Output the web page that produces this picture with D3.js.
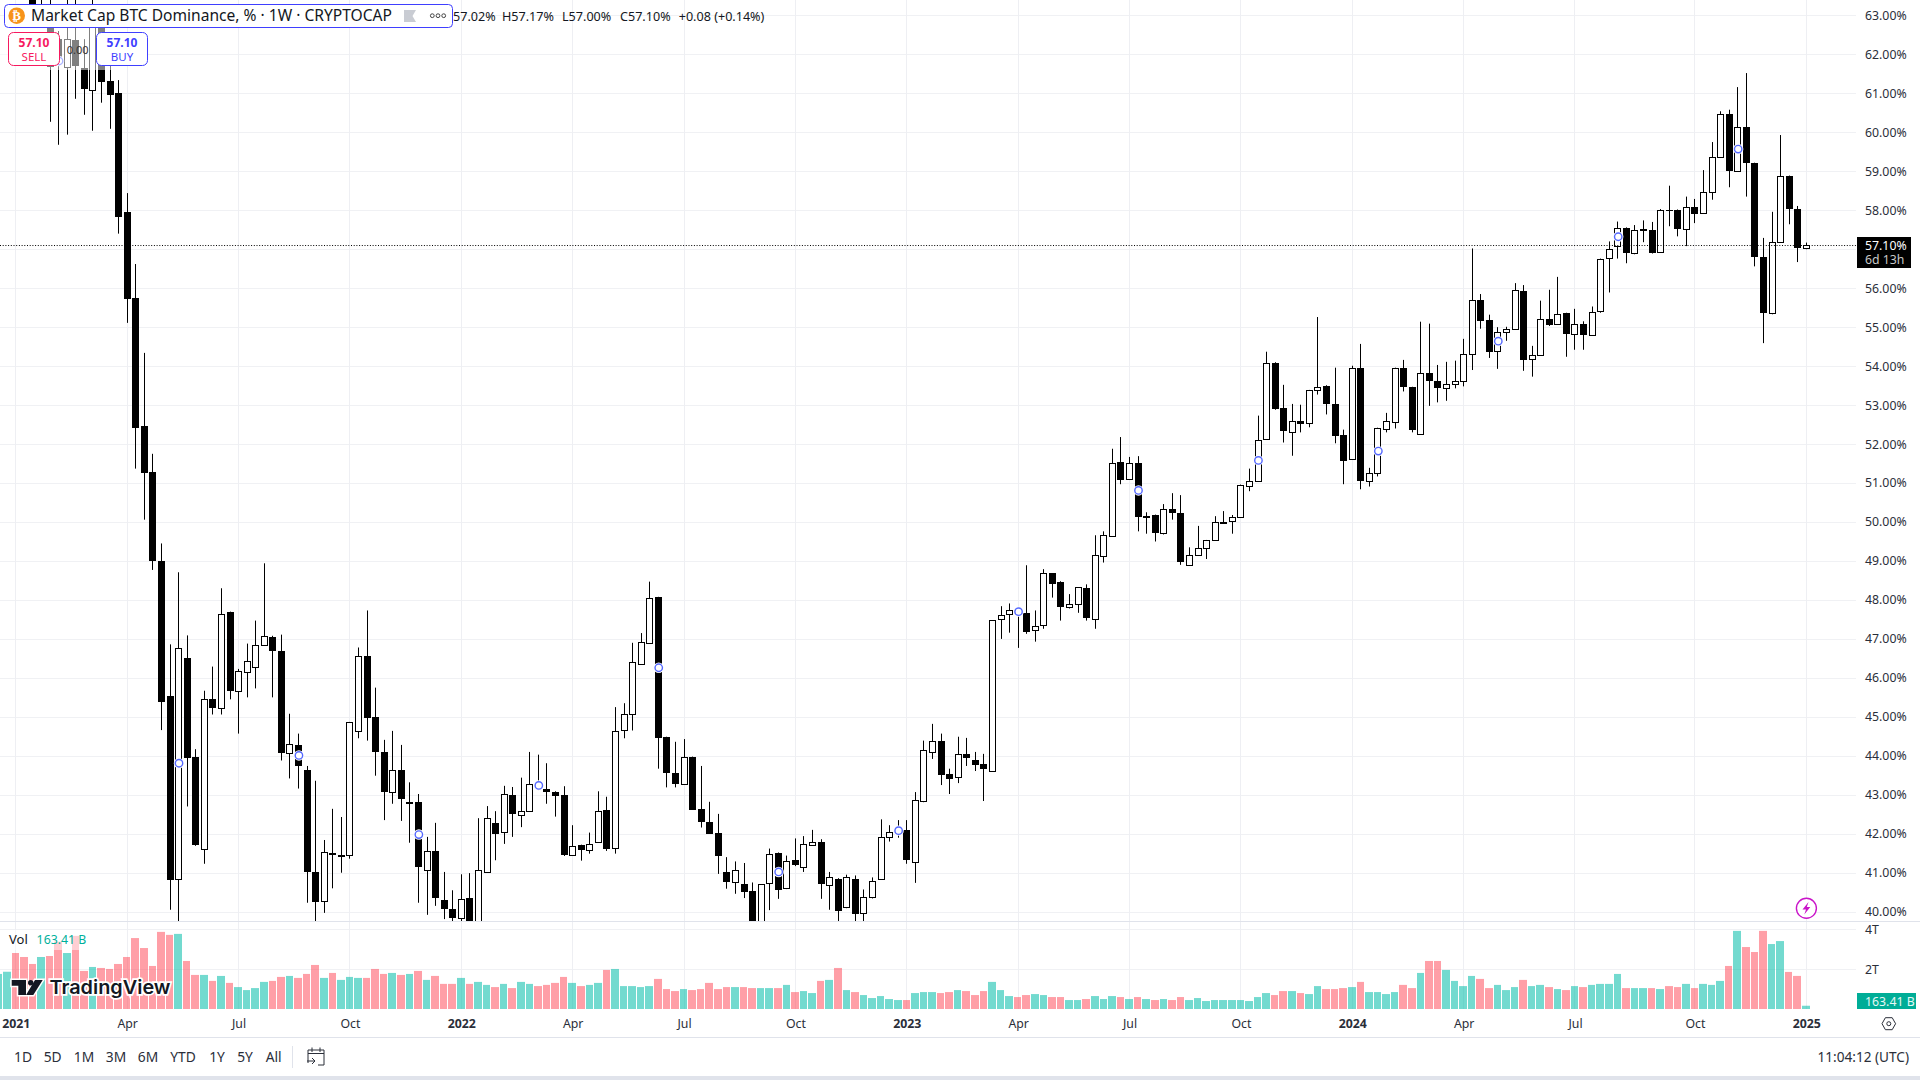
<!DOCTYPE html>
<html>
<head>
<meta charset="utf-8">
<title>Market Cap BTC Dominance</title>
<script src="https://cdn.jsdelivr.net/npm/d3@7"></script>
<style>
html, body { margin: 0; padding: 0; background: #fff; overflow: hidden; }
svg { display: block; }
text { font-family: "Noto Sans", sans-serif; fill: #131722; }
.axis path { display: none; }
.axis text { font-size: 12.3px; font-family: "Noto Sans", sans-serif; fill: #2a2e39; }
</style>
</head>
<body>
<div id="chart"></div>
<script>
// Weekly candles, in percent. The first few sit above the visible area
var opens = [
    67.2, 67.5, 67.9, 66.5, 64.2, 62.9, 63.1, 62.4, 61.68, 62.37,
    61.64, 61.08, 62.88, 61.32, 61.0, 57.95, 55.75, 52.46, 51.28, 49.0,
    45.54, 40.83, 46.52, 43.97, 41.62, 45.46, 45.23, 47.68, 45.66, 46.15,
    46.28, 46.85, 47.05, 46.68, 44.06, 44.28, 43.64, 41.02, 40.25, 41.50,
    41.44, 41.46, 44.63, 46.56, 45.0, 44.09, 43.06, 43.63, 42.80, 42.81,
    41.06, 41.55, 40.31, 40.08, 39.85, 40.34, 39.55, 41.01, 42.27, 42.04,
    42.99, 42.47, 42.58, 43.27, 43.14, 43.07, 42.99, 41.44, 41.70, 41.6,
    41.78, 42.60, 41.62, 44.66, 45.07, 46.36, 46.90, 48.07, 44.48, 43.55,
    43.27, 43.97, 42.63, 42.30, 42.01, 41.03, 40.77, 40.72, 40.54, 39.6,
    40.72, 41.50, 40.59, 41.32, 41.14, 41.73, 41.80, 40.70, 40.85, 40.12,
    40.85, 39.98, 40.39, 40.83, 41.93, 42.04, 42.09, 41.28, 42.85, 44.10,
    44.39, 43.54, 43.46, 44.05, 43.90, 43.80, 43.61, 47.53, 47.66, 47.74,
    47.66, 47.22, 47.35, 48.68, 48.45, 47.81, 47.89, 48.30, 47.50, 49.12,
    49.64, 51.54, 51.10, 51.51, 50.12, 50.18, 49.71, 50.33, 50.23, 48.89,
    49.15, 49.33, 49.53, 50.0, 50.02, 50.12, 50.92, 51.05, 52.12, 54.09,
    52.92, 52.31, 52.60, 52.53, 53.38, 53.50, 53.03, 52.24, 51.62, 53.95,
    51.04, 51.25, 52.38, 52.56, 53.95, 53.46, 52.26, 53.82, 53.62, 53.44,
    53.54, 53.62, 54.31, 55.70, 55.19, 54.38, 54.87, 54.95, 55.93, 54.18,
    54.28, 55.21, 55.08, 55.36, 54.82, 55.08, 54.79, 55.41, 56.77, 57.08,
    57.55, 56.91, 57.50, 57.50, 56.93, 58.01, 58.01, 57.52, 58.09, 57.93,
    58.47, 59.37, 60.47, 59.01, 60.14, 59.21, 56.80, 55.36, 57.19, 58.88,
    58.03, 57.02
];
var highs = [
    67.8, 68.2, 68.4, 67.0, 65.0, 64.2, 63.9, 62.6, 63.6, 63.5,
    62.39, 64.0, 63.1, 61.8, 61.34, 58.44, 56.62, 54.34, 51.75, 49.45,
    46.86, 48.71, 47.09, 44.17, 45.67, 46.29, 48.30, 47.7, 46.23, 46.88,
    47.47, 48.94, 47.08, 47.11, 45.08, 44.57, 43.74, 43.36, 41.84, 42.64,
    42.43, 44.87, 46.78, 47.73, 45.75, 44.41, 44.64, 44.28, 43.32, 43.02,
    41.92, 42.28, 41.02, 40.55, 40.96, 40.99, 42.40, 42.71, 42.58, 43.23,
    43.20, 43.44, 44.10, 44.03, 43.81, 43.09, 43.22, 42.22, 41.72, 42.03,
    43.09, 42.95, 45.25, 45.35, 46.90, 47.15, 48.47, 48.08, 44.49, 44.36,
    44.43, 43.98, 43.74, 42.82, 42.51, 41.40, 41.29, 41.25, 40.75, 40.70,
    41.62, 41.52, 41.44, 41.88, 41.94, 42.10, 41.86, 41.02, 40.86, 40.95,
    40.93, 40.57, 40.88, 42.37, 42.22, 42.35, 42.35, 43.07, 44.39, 44.82,
    44.57, 43.67, 44.49, 44.46, 44.10, 44.05, 47.48, 47.84, 47.91, 47.80,
    48.89, 47.73, 48.79, 48.69, 48.48, 48.15, 48.32, 48.40, 49.66, 49.76,
    51.88, 52.18, 51.67, 51.69, 50.25, 50.19, 50.46, 50.74, 50.69, 49.35,
    49.90, 49.54, 50.15, 50.28, 50.18, 50.96, 51.37, 52.73, 54.37, 54.10,
    53.52, 53.03, 53.01, 53.39, 55.26, 53.51, 53.96, 52.37, 54.01, 54.57,
    51.39, 52.42, 52.80, 53.96, 54.16, 53.47, 55.14, 55.09, 54.03, 54.11,
    54.14, 54.70, 57.02, 55.85, 55.32, 55.0, 55.01, 56.13, 56.08, 54.52,
    55.68, 55.96, 56.29, 55.37, 55.47, 55.15, 55.53, 56.76, 57.20, 57.71,
    57.56, 57.62, 57.74, 57.70, 58.03, 58.63, 58.02, 58.35, 58.29, 59.03,
    59.75, 60.54, 60.58, 61.16, 61.52, 59.22, 57.29, 57.96, 59.93, 58.89,
    58.11, 57.17
];
var lows = [
    66.6, 66.8, 66.2, 64.1, 62.8, 62.8, 60.27, 59.68, 59.94, 60.86,
    60.45, 60.04, 60.76, 60.09, 57.40, 55.11, 51.37, 50.06, 48.77, 44.66,
    40.05, 39.6, 42.70, 41.69, 41.23, 45.06, 45.06, 45.45, 44.57, 45.50,
    45.73, 46.85, 45.50, 43.88, 43.42, 43.16, 40.23, 39.7, 39.97, 40.60,
    41.0, 41.36, 44.45, 44.39, 43.49, 42.35, 42.77, 42.33, 41.77, 40.23,
    39.92, 40.15, 39.81, 39.75, 39.76, 39.4, 39.4, 41.0, 41.32, 41.74,
    41.92, 42.17, 42.58, 43.12, 42.77, 42.44, 41.43, 41.43, 41.31, 41.49,
    41.77, 41.56, 41.49, 44.45, 44.65, 46.35, 46.89, 43.67, 43.19, 43.19,
    43.26, 42.62, 42.16, 42.0, 40.97, 40.59, 40.46, 40.35, 39.4, 39.5,
    40.04, 40.33, 40.58, 41.17, 41.02, 41.70, 40.33, 40.05, 39.7, 40.09,
    39.7, 39.7, 40.34, 40.82, 41.80, 41.90, 41.23, 40.74, 42.81, 43.92,
    43.25, 43.02, 43.30, 43.74, 43.61, 42.84, 43.60, 47.0, 47.16, 46.77,
    47.13, 46.93, 47.26, 48.06, 47.47, 47.78, 47.67, 47.47, 47.26, 48.96,
    49.63, 50.97, 51.09, 49.76, 49.70, 49.50, 49.68, 50.06, 48.90, 48.88,
    49.14, 49.05, 49.52, 49.98, 49.70, 50.11, 50.79, 51.04, 52.11, 52.88,
    52.04, 51.70, 52.30, 52.43, 53.27, 52.76, 52.02, 50.97, 51.61, 50.84,
    50.91, 51.17, 52.30, 52.40, 53.35, 52.30, 52.25, 52.98, 53.07, 53.11,
    53.43, 53.48, 53.90, 54.96, 54.21, 53.93, 54.65, 54.94, 53.88, 53.73,
    54.27, 55.03, 55.07, 54.24, 54.42, 54.42, 54.78, 55.37, 55.89, 56.76,
    56.64, 56.87, 57.18, 56.89, 56.92, 57.59, 57.33, 57.08, 57.67, 57.92,
    58.27, 59.36, 58.59, 59.0, 58.35, 56.56, 54.59, 55.33, 57.18, 57.64,
    56.67, 57.0
];
var closes = [
    67.5, 67.9, 66.5, 64.3, 63.0, 63.1, 61.7, 61.8, 62.39, 61.71,
    61.10, 63.0, 61.30, 60.97, 57.83, 55.72, 52.42, 51.26, 49.0, 45.39,
    40.82, 46.77, 43.96, 41.72, 45.46, 45.24, 47.64, 45.66, 46.18, 46.43,
    46.85, 47.08, 46.68, 44.06, 44.30, 43.73, 41.02, 40.25, 41.52, 41.44,
    41.45, 44.87, 46.56, 44.96, 44.11, 43.06, 43.63, 42.88, 42.81, 41.15,
    41.55, 40.35, 40.07, 39.84, 40.33, 39.55, 41.06, 42.40, 41.98, 43.01,
    42.49, 42.58, 43.27, 43.22, 43.06, 42.98, 41.44, 41.68, 41.56, 41.75,
    42.58, 41.59, 44.63, 45.07, 46.41, 46.92, 48.06, 44.45, 43.55, 43.27,
    43.97, 42.62, 42.29, 42.0, 41.41, 40.77, 41.08, 40.51, 39.6, 40.70,
    41.47, 40.56, 41.29, 41.18, 41.73, 41.80, 40.71, 40.90, 40.02, 40.88,
    39.94, 40.39, 40.80, 41.91, 42.05, 42.09, 41.33, 42.86, 44.16, 44.39,
    43.53, 43.40, 44.05, 43.94, 43.76, 43.66, 47.48, 47.62, 47.75, 47.68,
    47.18, 47.32, 48.68, 48.39, 47.80, 47.89, 48.32, 47.52, 49.15, 49.66,
    51.51, 51.09, 51.51, 50.12, 50.15, 49.73, 50.33, 50.22, 48.98, 49.15,
    49.33, 49.53, 50.0, 50.01, 50.12, 50.95, 51.05, 52.10, 54.08, 52.91,
    52.32, 52.59, 52.53, 53.38, 53.46, 53.04, 52.22, 51.58, 53.95, 51.04,
    51.25, 52.41, 52.59, 53.95, 53.45, 52.35, 53.82, 53.61, 53.45, 53.54,
    53.61, 54.31, 55.69, 55.15, 54.38, 54.87, 54.95, 55.95, 54.17, 54.28,
    55.21, 55.06, 55.33, 54.81, 55.08, 54.79, 55.38, 56.75, 57.0, 57.55,
    56.92, 57.50, 57.51, 56.92, 58.01, 58.0, 57.51, 58.09, 57.92, 58.47,
    59.37, 60.47, 59.0, 60.14, 59.21, 56.79, 55.36, 57.18, 58.88, 58.03,
    57.03, 57.10
];
// Volume per week, in trillions
var volumes = [
    1.76, 1.87, 2.81, 2.61, 2.26, 2.61, 2.66, 3.38, 2.81, 3.67,
    1.91, 2.11, 2.06, 2.01, 2.26, 2.61, 3.56, 3.06, 2.16, 3.87,
    3.72, 3.77, 2.41, 1.71, 1.71, 1.41, 1.66, 1.31, 1.10, 0.95,
    1.05, 1.36, 1.41, 1.61, 1.66, 1.56, 1.76, 2.21, 1.56, 1.81,
    1.46, 1.61, 1.56, 1.56, 2.01, 1.76, 1.81, 1.71, 1.76, 1.91,
    1.46, 1.66, 1.26, 1.26, 1.56, 1.26, 1.36, 1.21, 1.10, 1.26,
    1.05, 1.36, 1.26, 1.15, 1.21, 1.31, 1.61, 1.31, 1.15, 1.21,
    1.31, 1.96, 2.01, 1.15, 1.15, 1.10, 1.15, 1.51, 1.0, 0.90,
    1.0, 0.95, 1.0, 1.31, 1.0, 1.10, 1.10, 1.10, 1.05, 1.05,
    1.05, 1.05, 1.21, 0.85, 0.90, 0.80, 1.41, 1.46, 2.06, 0.95,
    0.85, 0.70, 0.55, 0.65, 0.50, 0.45, 0.45, 0.80, 0.85, 0.85,
    0.80, 0.85, 0.95, 0.90, 0.70, 0.90, 1.36, 0.95, 0.65, 0.60,
    0.70, 0.75, 0.70, 0.60, 0.60, 0.45, 0.45, 0.50, 0.65, 0.50,
    0.65, 0.60, 0.50, 0.60, 0.50, 0.45, 0.50, 0.45, 0.60, 0.45,
    0.55, 0.40, 0.45, 0.45, 0.45, 0.45, 0.40, 0.60, 0.80, 0.70,
    0.90, 0.90, 0.80, 0.75, 1.15, 1.0, 1.0, 1.05, 1.10, 1.36,
    0.85, 0.85, 0.75, 0.85, 1.21, 1.05, 1.81, 2.41, 2.41, 1.96,
    1.41, 1.15, 1.66, 1.51, 1.05, 1.21, 0.95, 1.10, 1.46, 1.15,
    1.21, 1.10, 1.0, 0.95, 1.15, 1.10, 1.21, 1.26, 1.26, 1.76,
    1.05, 1.05, 1.05, 1.05, 1.0, 1.15, 1.10, 1.26, 1.05, 1.26,
    1.21, 1.41, 2.16, 3.92, 3.11, 2.86, 3.92, 3.26, 3.41, 1.86,
    1.66, 0.163
];
// Blue ring markers: week number and price
var markerWeeks = [7, 21, 35, 49, 63, 77, 91, 105, 119, 133, 147, 161, 175, 189, 203];
var markerPrices = [61.83, 43.81, 44.01, 41.98, 43.24, 46.26, 41.02, 42.08, 47.70, 50.81, 51.58, 51.82, 54.64, 57.32, 59.57];

// 57% has a grid line, but its label is hidden by the last price tag
var priceTicks = d3.range(40, 64);
var priceLabelTicks = priceTicks.filter(d => d !== 57);
var volumeTicks = [2, 4];
var timeTickWeeks = [2, 15, 28, 41, 54, 67, 80, 93, 106, 119, 132, 145, 158, 171, 184, 198, 211];
var timeTickLabels = ["2021", "Apr", "Jul", "Oct", "2022", "Apr", "Jul", "Oct", "2023", "Apr", "Jul", "Oct", "2024", "Apr", "Jul", "Oct", "2025"];
var rangeLabels = ["1D", "5D", "1M", "3M", "6M", "YTD", "1Y", "5Y", "All"];
var rangeCenters = [23, 52.7, 84, 116, 148, 183, 217, 245, 273.7];
var lastPrice = 57.10;

// Define SVG area dimensions
var svgWidth = 1920;
var svgHeight = 1080;
var plotRight = 1856;
var priceBottom = 921.5;
var volumeBottom = 1009;

var svg = d3.select("#chart").append("svg")
    .attr("width", svgWidth)
    .attr("height", svgHeight);

var candles = opens.map(function(o, i) {
    return { week: i, open: o, high: highs[i], low: lows[i], close: closes[i], volume: volumes[i] };
});

// Scales
var xScale = d3.scaleLinear().domain([0, 211]).range([-1.3, 1806.3]);
var yScale = d3.scaleLinear().domain([40, 63]).range([911.7, 15.4]);
var volScale = d3.scaleLinear().domain([0, 4]).range([volumeBottom, 929.3]);

svg.append("clipPath").attr("id", "priceClip").append("rect")
    .attr("x", 0).attr("y", 0).attr("width", plotRight).attr("height", priceBottom);

// Grid
var grid = svg.append("g");
grid.selectAll(".hgrid").data(priceTicks).enter().append("line")
    .attr("x1", 0).attr("x2", plotRight)
    .attr("y1", d => Math.round(yScale(d)) + 0.5)
    .attr("y2", d => Math.round(yScale(d)) + 0.5)
    .attr("stroke", "#f0f1f4");
grid.selectAll(".vgrid").data(volumeTicks).enter().append("line")
    .attr("x1", 0).attr("x2", plotRight)
    .attr("y1", d => Math.round(volScale(d)) + 0.5)
    .attr("y2", d => Math.round(volScale(d)) + 0.5)
    .attr("stroke", "#f0f1f4");
grid.selectAll(".tgrid").data(timeTickWeeks).enter().append("line")
    .attr("x1", d => Math.floor(xScale(d)) + 0.5)
    .attr("x2", d => Math.floor(xScale(d)) + 0.5)
    .attr("y1", 0).attr("y2", volumeBottom)
    .attr("stroke", "#eeeff3");

// Volume bars
var step = xScale(1) - xScale(0);
svg.append("g").selectAll("rect").data(candles).enter().append("rect")
    .attr("x", d => Math.round(xScale(d.week) - step / 2))
    .attr("width", d => Math.round(xScale(d.week) + step / 2) - Math.round(xScale(d.week) - step / 2) - 1)
    .attr("y", d => volScale(d.volume))
    .attr("height", d => volumeBottom - volScale(d.volume))
    .attr("fill", d => d.close >= d.open ? "rgba(0,188,168,0.55)" : "rgba(255,64,80,0.5)");

// Candles
var candleGroup = svg.append("g").attr("clip-path", "url(#priceClip)");
var node = candleGroup.selectAll(".candle").data(candles).enter().append("g").attr("class", "candle");

node.append("line")
    .attr("x1", d => Math.floor(xScale(d.week)) + 0.5)
    .attr("x2", d => Math.floor(xScale(d.week)) + 0.5)
    .attr("y1", d => yScale(d.high))
    .attr("y2", d => yScale(d.low))
    .attr("stroke", "#000");

node.append("rect")
    .attr("x", d => Math.floor(xScale(d.week)) - 3 + (d.close >= d.open ? 0.5 : 0))
    .attr("width", d => d.close >= d.open ? 6 : 7)
    .attr("y", d => Math.round(yScale(Math.max(d.open, d.close))) + (d.close >= d.open ? 0.5 : 0))
    .attr("height", d => Math.max(1, Math.round(Math.abs(yScale(d.open) - yScale(d.close)))))
    .attr("fill", d => d.close >= d.open ? "#fff" : "#000")
    .attr("stroke", d => d.close >= d.open ? "#000" : "none");

// Markers on the candles
var markers = markerWeeks.map(function(w, i) { return { week: w, price: markerPrices[i] }; });
var markerGroup = svg.append("g");
markerGroup.selectAll(".halo").data(markers).enter().append("circle")
    .attr("cx", d => xScale(d.week) + 0.4).attr("cy", d => yScale(d.price))
    .attr("r", 5.2).attr("fill", "#fff");
markerGroup.selectAll(".ring").data(markers).enter().append("circle")
    .attr("cx", d => xScale(d.week) + 0.4).attr("cy", d => yScale(d.price))
    .attr("r", 3.7).attr("fill", "#fff").attr("stroke", "#5468ff").attr("stroke-width", 1.4);

// Last price line
svg.append("line")
    .attr("x1", 0).attr("x2", plotRight)
    .attr("y1", yScale(lastPrice) + 0.2).attr("y2", yScale(lastPrice) + 0.2)
    .attr("stroke", "#000").attr("stroke-dasharray", "1 1.7");

// Pane separators
svg.append("line").attr("x1", 0).attr("x2", svgWidth).attr("y1", priceBottom).attr("y2", priceBottom).attr("stroke", "#e0e3eb");
svg.append("line").attr("x1", 0).attr("x2", svgWidth).attr("y1", 1037.5).attr("y2", 1037.5).attr("stroke", "#e0e3eb");
svg.append("rect").attr("x", 0).attr("y", 1076).attr("width", svgWidth).attr("height", 4).attr("fill", "#e0e3eb");

// Price axis
var rightAxis = d3.axisRight(yScale).tickValues(priceLabelTicks).tickFormat(d => d.toFixed(2) + "%").tickSize(0).tickPadding(9);
svg.append("g").attr("class", "axis").attr("transform", `translate(${plotRight},0)`).call(rightAxis);

// Volume axis
var volAxis = d3.axisRight(volScale).tickValues(volumeTicks).tickFormat(d => d + "T").tickSize(0).tickPadding(9);
svg.append("g").attr("class", "axis").attr("transform", `translate(${plotRight},0)`).call(volAxis);

// Time axis
var bottomAxis = d3.axisBottom(xScale).tickValues(timeTickWeeks).tickFormat((d, i) => timeTickLabels[i]).tickSize(0).tickPadding(10);
var timeAxis = svg.append("g").attr("class", "axis").attr("transform", `translate(0,${volumeBottom})`).call(bottomAxis);
timeAxis.selectAll("text")
    .style("font-weight", (d, i) => /^\d/.test(timeTickLabels[i]) ? 700 : 400);

// Last price tag
svg.append("rect").attr("x", 1857).attr("y", 237).attr("width", 54).attr("height", 31).attr("fill", "#000");
svg.append("text").attr("x", 1865).attr("y", 249.5).style("font-size", "12.3px").style("fill", "#fff").text("57.10%");
svg.append("text").attr("x", 1865).attr("y", 263.5).style("font-size", "12.3px").style("fill", "#c8c8c8").text("6d 13h");

// Volume tag and settings icon
svg.append("rect").attr("x", 1857).attr("y", 993).attr("width", 59).attr("height", 16).attr("fill", "#00ad97");
svg.append("text").attr("x", 1865).attr("y", 1005.5).style("font-size", "12.3px").style("fill", "#e6f8f5").text("163.41 B");
svg.append("path").attr("d", "M1882 1023.7 L1885.4 1017.7 L1892.2 1017.7 L1895.6 1023.7 L1892.2 1029.7 L1885.4 1029.7 Z")
    .attr("fill", "none").attr("stroke", "#2a2e39");
svg.append("circle").attr("cx", 1888.8).attr("cy", 1023.7).attr("r", 2).attr("fill", "none").attr("stroke", "#2a2e39");

// Lightning badge
svg.append("circle").attr("cx", 1806.4).attr("cy", 908.3).attr("r", 10).attr("fill", "#fff").attr("stroke", "#c914c9").attr("stroke-width", 1.4);
svg.append("path").attr("d", "M1808.5 902 L1802.5 909.5 L1806 909.5 L1804.3 914.5 L1810.3 907 L1806.8 907 Z").attr("fill", "#c914c9");

// Volume legend
svg.append("rect").attr("x", 6).attr("y", 930).attr("width", 82).attr("height", 20).attr("fill", "#fff").attr("fill-opacity", 0.5);
svg.append("text").attr("x", 9).attr("y", 943.5).style("font-size", "13px").text("Vol");
svg.append("text").attr("x", 36.6).attr("y", 943.5).style("font-size", "12.3px").style("fill", "#00b09b").text("163.41 B");

// TradingView logo
var logo = svg.append("g");
logo.append("path")
    .attr("d", "M11.7 980 H26 V995 H18.3 V985.7 H11.7 Z M35 980 H42.7 L33.3 995 H26 Z")
    .attr("fill", "#131722").attr("stroke", "#fff").attr("stroke-width", 3).attr("paint-order", "stroke");
logo.append("circle").attr("cx", 30.7).attr("cy", 982.7).attr("r", 2.7).attr("fill", "#131722");
logo.append("text").attr("x", 49.5).attr("y", 993.7)
    .attr("textLength", 121).attr("lengthAdjust", "spacingAndGlyphs")
    .attr("stroke", "#fff").attr("stroke-width", 3.5).attr("paint-order", "stroke")
    .style("font-family", "Inter").style("font-weight", 600).style("font-size", "19px")
    .text("TradingView");

// Range selector row
svg.append("g").selectAll("text").data(rangeLabels).enter().append("text")
    .attr("x", (d, i) => rangeCenters[i]).attr("y", 1061.5)
    .attr("text-anchor", "middle").style("font-size", "13.8px").style("fill", "#2a2e39")
    .text(d => d);
svg.append("line").attr("x1", 292.5).attr("x2", 292.5).attr("y1", 1046).attr("y2", 1068).attr("stroke", "#e0e3eb");
svg.append("path")
    .attr("d", "M308 1063 V1050 H324 V1065 H318 M308 1053.5 H324 M312 1047.5 V1052 M320 1047.5 V1052 M307 1061 H315 M312 1058 L315 1061 L312 1064")
    .attr("fill", "none").attr("stroke", "#2a2e39");
svg.append("text").attr("x", 1909).attr("y", 1061.5).attr("text-anchor", "end")
    .style("font-size", "13.6px").style("fill", "#2a2e39").text("11:04:12 (UTC)");

// Dimmed strip behind the trade buttons
svg.append("rect").attr("x", 0).attr("y", 27.7).attr("width", 115).attr("height", 42.3).attr("fill", "#fff").attr("fill-opacity", 0.5);
svg.append("text").attr("x", 77.7).attr("y", 53.5).attr("text-anchor", "middle").style("font-size", "11px").style("fill", "#333").text("0.00");

// Sell and buy buttons
svg.append("rect").attr("x", 8.5).attr("y", 32.5).attr("width", 51).attr("height", 33).attr("rx", 5).attr("fill", "#fff").attr("stroke", "#f7195f");
svg.append("text").attr("x", 34).attr("y", 47).attr("text-anchor", "middle").style("font-size", "12px").style("font-weight", 700).style("fill", "#f7195f").text("57.10");
svg.append("text").attr("x", 34).attr("y", 61).attr("text-anchor", "middle").style("font-size", "11.5px").style("fill", "#f7195f").text("SELL");
svg.append("rect").attr("x", 96.5).attr("y", 32.5).attr("width", 51).attr("height", 33).attr("rx", 5).attr("fill", "#fff").attr("stroke", "#3f3fff");
svg.append("text").attr("x", 122).attr("y", 47).attr("text-anchor", "middle").style("font-size", "12px").style("font-weight", 700).style("fill", "#3f3fff").text("57.10");
svg.append("text").attr("x", 122).attr("y", 61).attr("text-anchor", "middle").style("font-size", "11.5px").style("fill", "#3f3fff").text("BUY");

// Header box
svg.append("rect").attr("x", 4.5).attr("y", 4.5).attr("width", 448).attr("height", 23).attr("rx", 4).attr("fill", "#fff").attr("stroke", "#3f3fff");
svg.append("circle").attr("cx", 16.7).attr("cy", 15.7).attr("r", 8.3).attr("fill", "#f7931a");
svg.append("text").attr("x", 16.7).attr("y", 20.3).attr("text-anchor", "middle")
    .style("font-family", "DejaVu Sans").style("font-size", "13px").style("font-weight", 700).style("fill", "#fff").text("₿");
svg.append("text").attr("x", 31).attr("y", 21.2).attr("textLength", 361).attr("lengthAdjust", "spacingAndGlyphs")
    .style("font-size", "15.6px").text("Market Cap BTC Dominance, % · 1W · CRYPTOCAP");
svg.append("path").attr("d", "M404 10 H416 L412.5 16 L416 22 H404 Z").attr("fill", "#c9ccd3");
svg.append("g").selectAll("circle").data([432.3, 438, 443.7]).enter().append("circle")
    .attr("cx", d => d).attr("cy", 15.7).attr("r", 1.9).attr("fill", "none").attr("stroke", "#444");

// OHLC readout, built from the last candle
var last = candles[candles.length - 1];
var readout = [
    { x: 453, t: last.open.toFixed(2) + "%" },
    { x: 502, t: "H" + last.high.toFixed(2) + "%" },
    { x: 562, t: "L" + last.low.toFixed(2) + "%" },
    { x: 620, t: "C" + last.close.toFixed(2) + "%" },
    { x: 678.7, t: "+0.08 (+0.14%)" }
];
svg.append("g").selectAll("text").data(readout).enter().append("text")
    .attr("x", d => d.x).attr("y", 21)
    .style("font-size", "12.6px").style("fill", "#131722")
    .text(d => d.t);
</script>
</body>
</html>
